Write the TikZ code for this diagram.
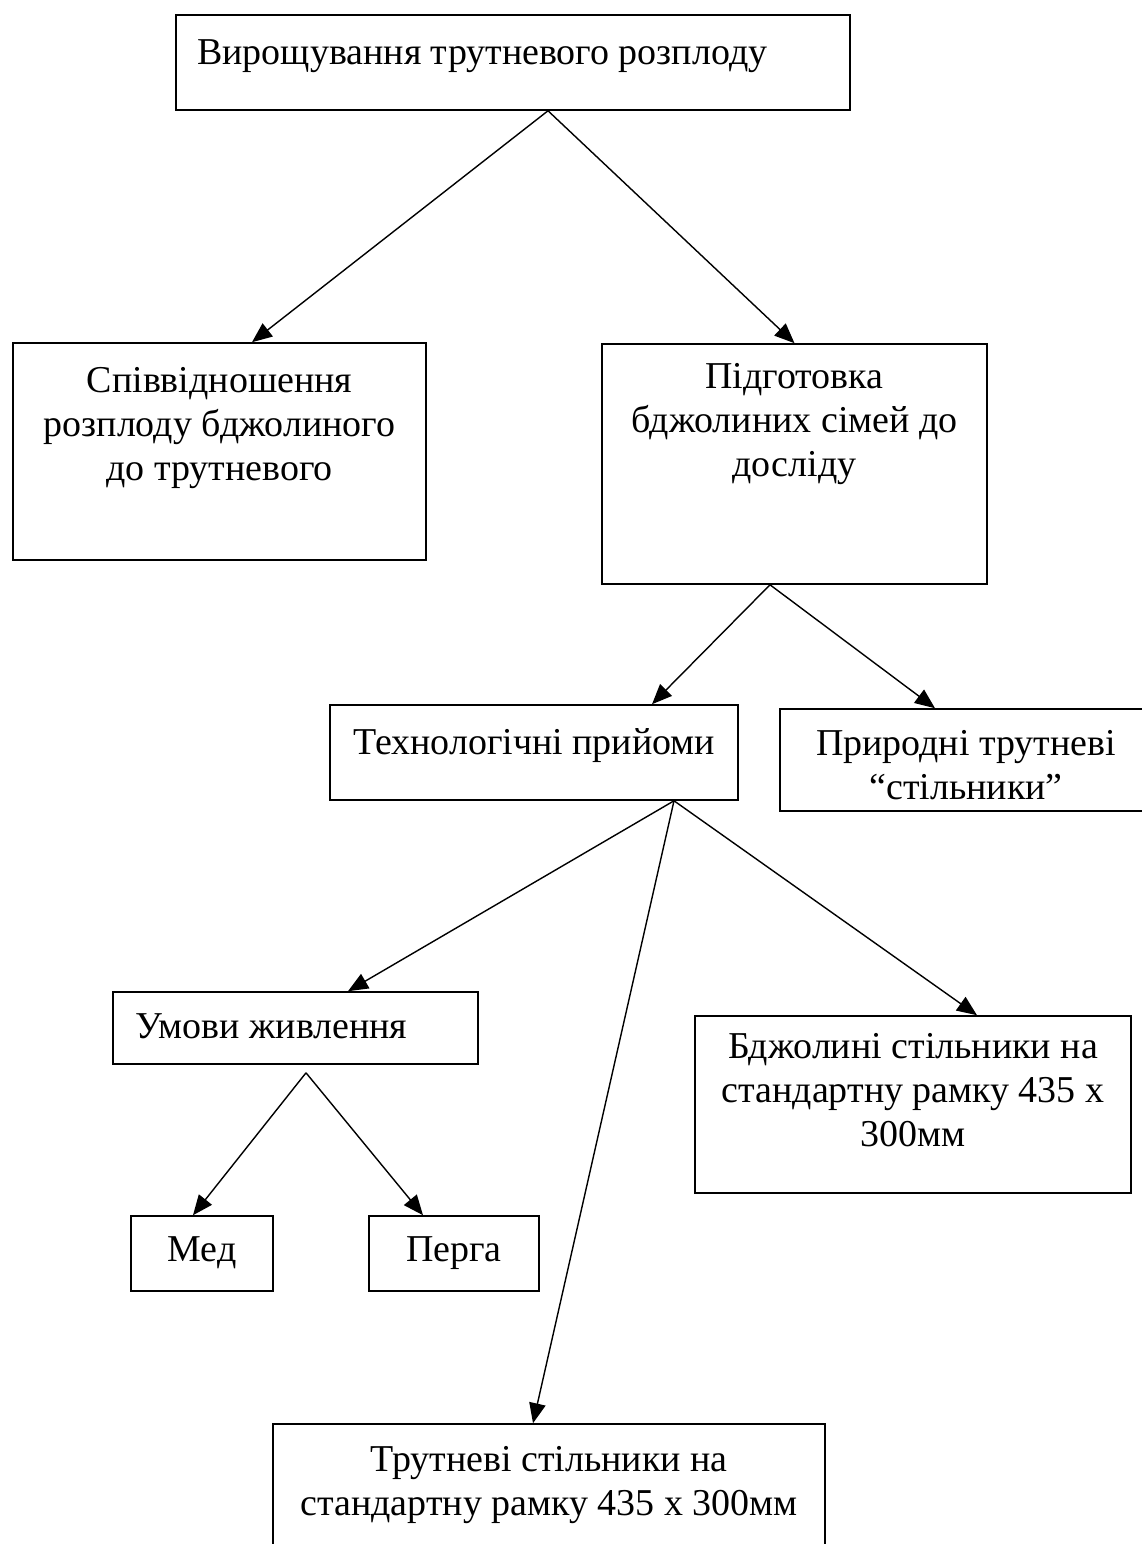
\documentclass[tikz,border=0pt]{standalone}
\usepackage{fontspec}
\setmainfont{Liberation Serif}
\usetikzlibrary{arrows.meta, calc}

\begin{document}
\begin{tikzpicture}[x=0.2mm, y=-0.2mm, >={Triangle[length=4mm, width=3.3mm]},
		box/.style={rectangle, draw=black, line width=0.9pt, inner sep=0pt},
		txt/.style={inner sep=0pt, font=\fontsize{21.6}{25}\selectfont},
		arr/.style={->, line width=0.8pt}]
		
		\useasboundingbox (0,0) rectangle (1141,1544);
		
		% Блоки
		\node[box, minimum width=134.8mm, minimum height=19mm] (vir) at (513,62.5) {};
		\node[box, minimum width=82.6mm, minimum height=43.4mm] (spiv) at (219.5,451.5) {};
		\node[box, minimum width=77mm, minimum height=48mm] (pidh) at (794.5,464) {};
		\node[box, minimum width=81.6mm, minimum height=19mm] (tekh) at (534,752.5) {};
		\node[box, minimum width=74.4mm, minimum height=20.4mm] (pryr) at (966,760) {};
		\node[box, minimum width=73mm, minimum height=14.4mm] (umov) at (295.5,1028) {};
		\node[box, minimum width=87.2mm, minimum height=35.4mm] (bdzh) at (913,1104.5) {};
		\node[box, minimum width=28.4mm, minimum height=15mm] (med) at (202,1253.5) {};
		\node[box, minimum width=34mm, minimum height=15mm] (perha) at (454,1253.5) {};
		\node[box, minimum width=110.4mm, minimum height=28.2mm] (trut) at (549,1494.5) {};
		
		% Тексти
		\node[txt, anchor=base west] (virT) at (197,65) {Вирощування трутневого розплоду};
		\node[txt, anchor=north, align=center] (spivT) at (219.5,367) {Співвідношення\\розплоду бджолиного\\до трутневого};
		\node[txt, anchor=north, align=center] (pidhT) at (794.5,363) {Підготовка\\бджолиних сімей до\\досліду};
		\node[txt, anchor=base west] (tekhT) at (353,754) {Технологічні прийоми};
		\node[txt, anchor=north, align=center] (pryrT) at (966,730) {Природні трутневі\\“стільники”};
		\node[txt, anchor=base west] (umovT) at (135,1038) {Умови живлення};
		\node[txt, anchor=north, align=center] (bdzhT) at (913,1033) {Бджолині стільники на\\стандартну рамку 435 х\\300мм};
		\node[txt, anchor=base] (medT) at (202,1261) {Мед};
		\node[txt, anchor=base] (perhaT) at (454,1261) {Перга};
		\node[txt, anchor=north, align=center] (trutT) at (549,1446) {Трутневі стільники на\\стандартну рамку 435 х 300мм};
		
		% Стрілки
		\draw[arr] ($(vir.south)+(35,0)$) -- ($(spiv.north)+(32.5,0)$);
		\draw[arr] ($(vir.south)+(35,0)$) -- (pidh.north);
		\draw[arr] ($(pidh.south)+(-24.5,0)$) -- ($(tekh.north)+(118,0)$);
		\draw[arr] ($(pidh.south)+(-24.5,0)$) -- ($(pryr.north)+(-31,0)$);
		\draw[arr] ($(tekh.south)+(140,0)$) -- ($(umov.north)+(52.5,0)$);
		\draw[arr] ($(tekh.south)+(140,0)$) -- ($(trut.north)+(-16,0)$);
		\draw[arr] ($(tekh.south)+(140,0)$) -- ($(bdzh.north)+(64,0)$);
		\draw[arr] ($(umov.south)+(10.5,8)$) -- ($(med.north)+(-9,0)$);
		\draw[arr] ($(umov.south)+(10.5,8)$) -- ($(perha.north)+(-31,0)$);
		
\end{tikzpicture}
\end{document}
